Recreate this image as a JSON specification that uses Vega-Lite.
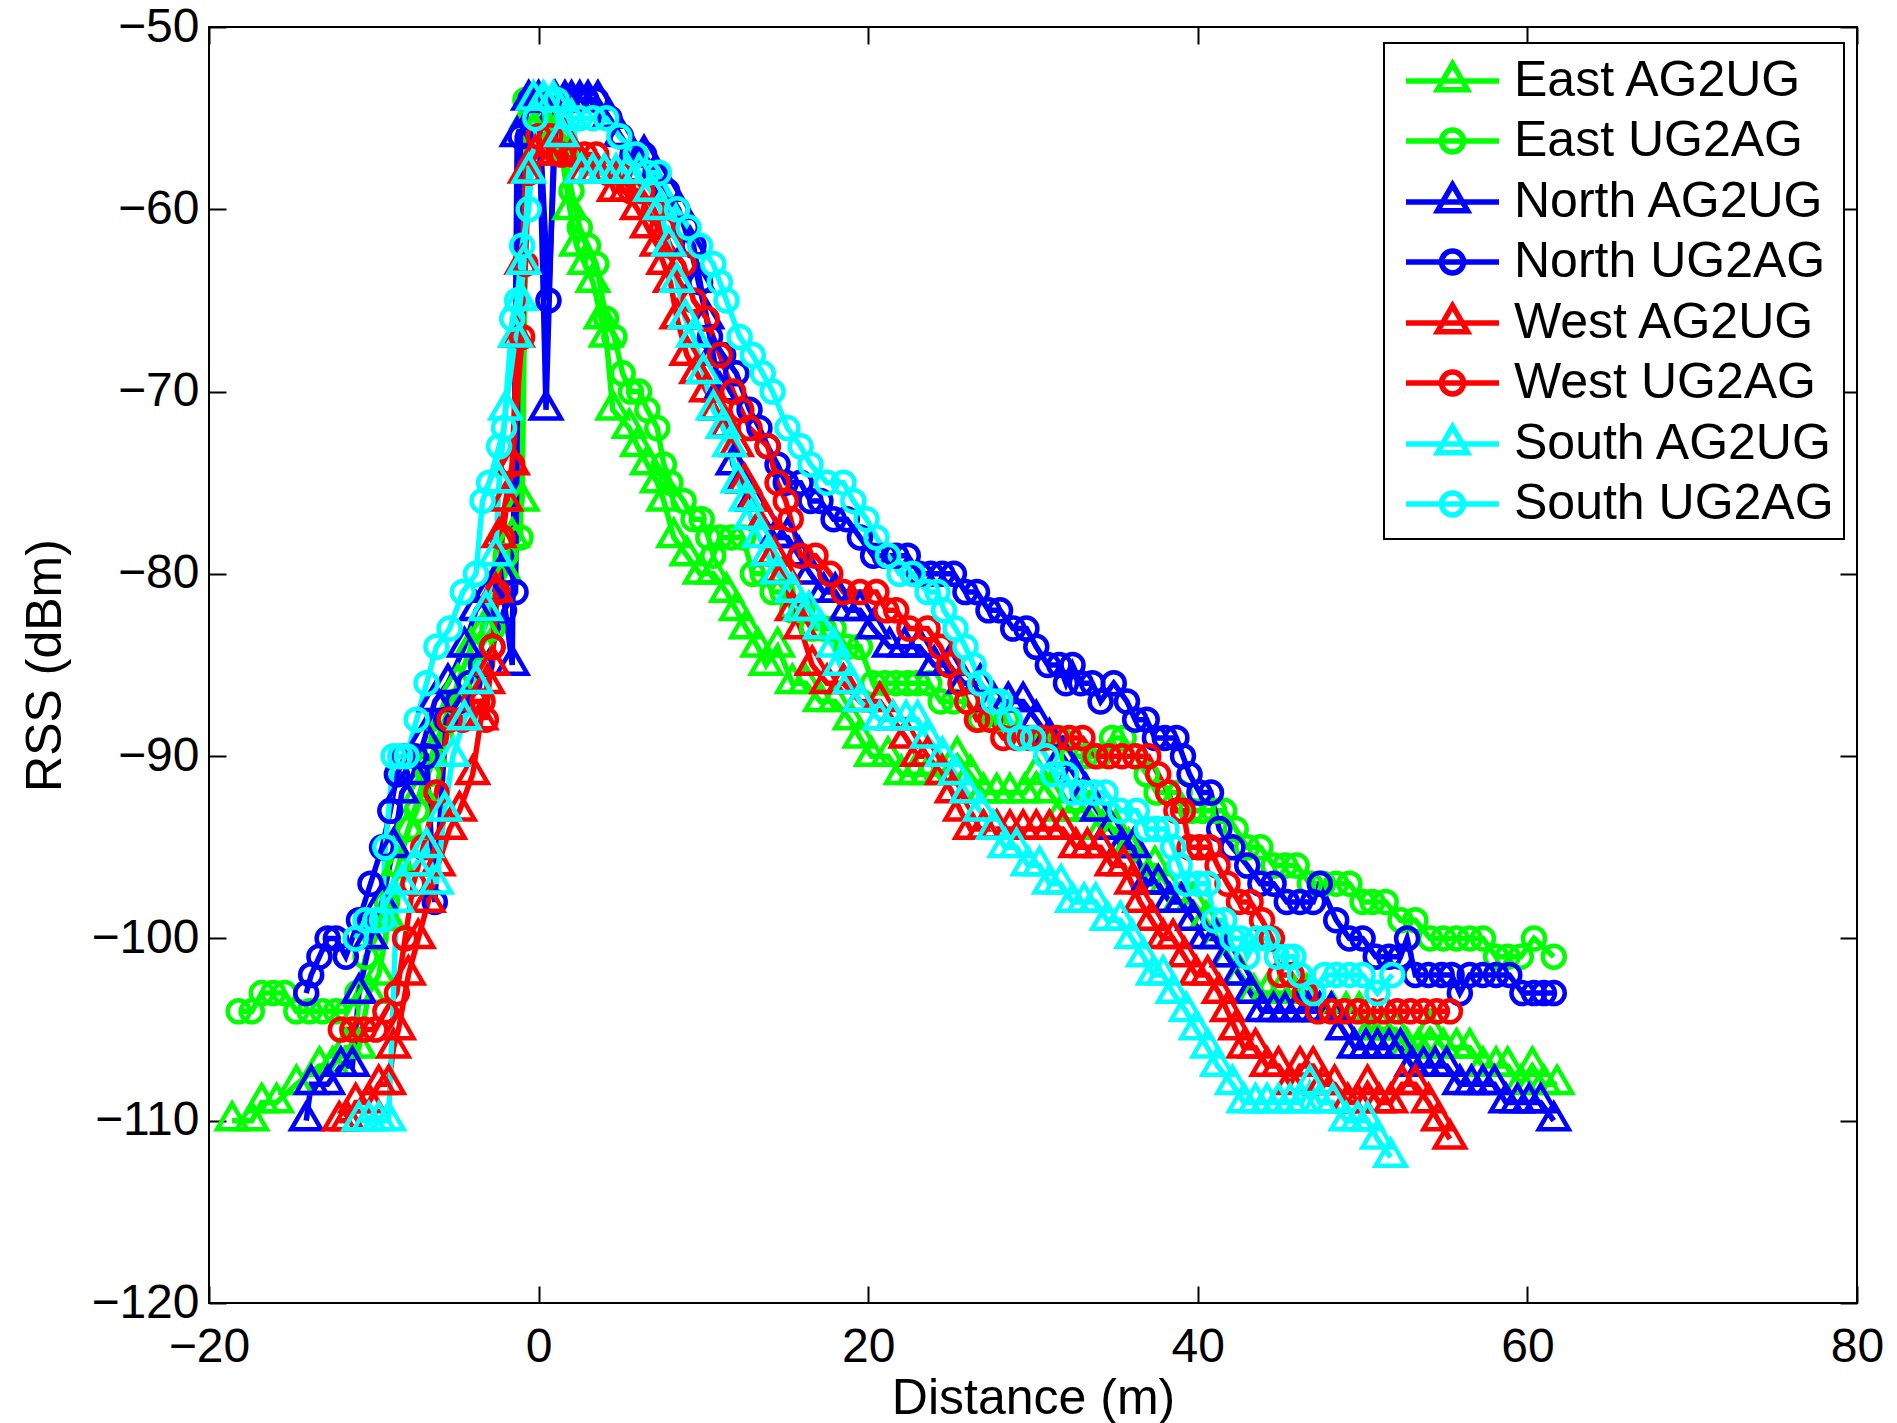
{
"$schema":"https://vega.github.io/schema/vega-lite/v6.json",
"width":1648,"height":1276,
"autosize":{"type":"none"},
"padding":{"left":209,"top":27,"right":40,"bottom":120},
"background":"white",
"config":{"view":{"stroke":"black","strokeWidth":2},"font":"Liberation Sans",
"axis":{"labelFont":"Liberation Sans","titleFont":"Liberation Sans","labelColor":"black","titleColor":"black","titleFontWeight":"normal","grid":false}},
"data":{"values":[
{"s":"East AG2UG","x":-18.6,"y":-110},{"s":"East AG2UG","x":-17.4,"y":-110},{"s":"East AG2UG","x":-16.8,"y":-109},{"s":"East AG2UG","x":-15.9,"y":-109},{"s":"East AG2UG","x":-14.7,"y":-108},{"s":"East AG2UG","x":-13.3,"y":-107},{"s":"East AG2UG","x":-12.5,"y":-107},{"s":"East AG2UG","x":-11.7,"y":-106},{"s":"East AG2UG","x":-10.9,"y":-106},{"s":"East AG2UG","x":-10.3,"y":-103},{"s":"East AG2UG","x":-9.7,"y":-102},{"s":"East AG2UG","x":-9.1,"y":-99},{"s":"East AG2UG","x":-8.5,"y":-96},{"s":"East AG2UG","x":-7.9,"y":-94},{"s":"East AG2UG","x":-7.2,"y":-92},{"s":"East AG2UG","x":-6.5,"y":-90},{"s":"East AG2UG","x":-5.7,"y":-88},{"s":"East AG2UG","x":-4.9,"y":-86},{"s":"East AG2UG","x":-4.1,"y":-84},{"s":"East AG2UG","x":-3.3,"y":-83},{"s":"East AG2UG","x":-2.6,"y":-81},{"s":"East AG2UG","x":-2,"y":-80},{"s":"East AG2UG","x":-1.6,"y":-78},{"s":"East AG2UG","x":-1,"y":-76},{"s":"East AG2UG","x":-0.7,"y":-55},{"s":"East AG2UG","x":0.2,"y":-55},{"s":"East AG2UG","x":0.9,"y":-56},{"s":"East AG2UG","x":1.4,"y":-57},{"s":"East AG2UG","x":1.9,"y":-60},{"s":"East AG2UG","x":2.3,"y":-62},{"s":"East AG2UG","x":2.8,"y":-63},{"s":"East AG2UG","x":3.3,"y":-64},{"s":"East AG2UG","x":3.8,"y":-66},{"s":"East AG2UG","x":4.1,"y":-67},{"s":"East AG2UG","x":4.5,"y":-71},{"s":"East AG2UG","x":5.5,"y":-72},{"s":"East AG2UG","x":6,"y":-73},{"s":"East AG2UG","x":6.6,"y":-74},{"s":"East AG2UG","x":7.2,"y":-75},{"s":"East AG2UG","x":7.6,"y":-76},{"s":"East AG2UG","x":8.2,"y":-78},{"s":"East AG2UG","x":9,"y":-79},{"s":"East AG2UG","x":9.8,"y":-80},{"s":"East AG2UG","x":10.6,"y":-80},{"s":"East AG2UG","x":11.4,"y":-81},{"s":"East AG2UG","x":12,"y":-82},{"s":"East AG2UG","x":12.6,"y":-83},{"s":"East AG2UG","x":13.3,"y":-84},{"s":"East AG2UG","x":13.8,"y":-85},{"s":"East AG2UG","x":14.5,"y":-84},{"s":"East AG2UG","x":15.4,"y":-86},{"s":"East AG2UG","x":16.2,"y":-86},{"s":"East AG2UG","x":17.1,"y":-87},{"s":"East AG2UG","x":18,"y":-87},{"s":"East AG2UG","x":18.9,"y":-88},{"s":"East AG2UG","x":19.5,"y":-89},{"s":"East AG2UG","x":20.2,"y":-90},{"s":"East AG2UG","x":21.2,"y":-90},{"s":"East AG2UG","x":22,"y":-91},{"s":"East AG2UG","x":22.8,"y":-91},{"s":"East AG2UG","x":23.6,"y":-91},{"s":"East AG2UG","x":24.4,"y":-91},{"s":"East AG2UG","x":25.4,"y":-90},{"s":"East AG2UG","x":26.2,"y":-91},{"s":"East AG2UG","x":27,"y":-92},{"s":"East AG2UG","x":27.8,"y":-92},{"s":"East AG2UG","x":28.6,"y":-92},{"s":"East AG2UG","x":29.5,"y":-92},{"s":"East AG2UG","x":30.2,"y":-91},{"s":"East AG2UG","x":31,"y":-92},{"s":"East AG2UG","x":31.8,"y":-93},{"s":"East AG2UG","x":32.6,"y":-93},{"s":"East AG2UG","x":33.4,"y":-93},{"s":"East AG2UG","x":34.2,"y":-94},{"s":"East AG2UG","x":35,"y":-94},{"s":"East AG2UG","x":35.8,"y":-95},{"s":"East AG2UG","x":36.6,"y":-96},{"s":"East AG2UG","x":37.4,"y":-96},{"s":"East AG2UG","x":38.1,"y":-97},{"s":"East AG2UG","x":38.9,"y":-98},{"s":"East AG2UG","x":39.7,"y":-98},{"s":"East AG2UG","x":40.5,"y":-99},{"s":"East AG2UG","x":41.2,"y":-100},{"s":"East AG2UG","x":41.9,"y":-101},{"s":"East AG2UG","x":42.6,"y":-102},{"s":"East AG2UG","x":43.4,"y":-103},{"s":"East AG2UG","x":44.2,"y":-103},{"s":"East AG2UG","x":45,"y":-103},{"s":"East AG2UG","x":45.8,"y":-103},{"s":"East AG2UG","x":46.6,"y":-103},{"s":"East AG2UG","x":47.4,"y":-104},{"s":"East AG2UG","x":48.2,"y":-104},{"s":"East AG2UG","x":49,"y":-104},{"s":"East AG2UG","x":49.8,"y":-104},{"s":"East AG2UG","x":50.5,"y":-105},{"s":"East AG2UG","x":51.2,"y":-105},{"s":"East AG2UG","x":52,"y":-105},{"s":"East AG2UG","x":52.7,"y":-106},{"s":"East AG2UG","x":53.4,"y":-106},{"s":"East AG2UG","x":54.1,"y":-105},{"s":"East AG2UG","x":54.9,"y":-106},{"s":"East AG2UG","x":55.7,"y":-106},{"s":"East AG2UG","x":56.5,"y":-106},{"s":"East AG2UG","x":57.3,"y":-107},{"s":"East AG2UG","x":58.1,"y":-107},{"s":"East AG2UG","x":58.8,"y":-107},{"s":"East AG2UG","x":59.6,"y":-108},{"s":"East AG2UG","x":60.3,"y":-107},{"s":"East AG2UG","x":61,"y":-108},{"s":"East AG2UG","x":61.8,"y":-108},
{"s":"East UG2AG","x":-18.2,"y":-104},{"s":"East UG2AG","x":-17.4,"y":-104},{"s":"East UG2AG","x":-16.8,"y":-103},{"s":"East UG2AG","x":-16.1,"y":-103},{"s":"East UG2AG","x":-15.4,"y":-103},{"s":"East UG2AG","x":-14.7,"y":-104},{"s":"East UG2AG","x":-13.9,"y":-104},{"s":"East UG2AG","x":-13.1,"y":-104},{"s":"East UG2AG","x":-12.3,"y":-104},{"s":"East UG2AG","x":-11.6,"y":-104},{"s":"East UG2AG","x":-11,"y":-103},{"s":"East UG2AG","x":-10.5,"y":-101},{"s":"East UG2AG","x":-9.9,"y":-100},{"s":"East UG2AG","x":-9.2,"y":-98},{"s":"East UG2AG","x":-8.5,"y":-96},{"s":"East UG2AG","x":-7.9,"y":-94},{"s":"East UG2AG","x":-7.4,"y":-93},{"s":"East UG2AG","x":-6.7,"y":-91},{"s":"East UG2AG","x":-5.9,"y":-89},{"s":"East UG2AG","x":-5.1,"y":-87},{"s":"East UG2AG","x":-4.3,"y":-86},{"s":"East UG2AG","x":-3.5,"y":-84},{"s":"East UG2AG","x":-2.8,"y":-83},{"s":"East UG2AG","x":-2,"y":-79},{"s":"East UG2AG","x":-1.1,"y":-78},{"s":"East UG2AG","x":-0.8,"y":-54},{"s":"East UG2AG","x":-0.2,"y":-54},{"s":"East UG2AG","x":0.5,"y":-55},{"s":"East UG2AG","x":1.2,"y":-56},{"s":"East UG2AG","x":1.6,"y":-57},{"s":"East UG2AG","x":2,"y":-59},{"s":"East UG2AG","x":2.5,"y":-61},{"s":"East UG2AG","x":3,"y":-62},{"s":"East UG2AG","x":3.5,"y":-63},{"s":"East UG2AG","x":4.1,"y":-66},{"s":"East UG2AG","x":4.6,"y":-67},{"s":"East UG2AG","x":5.1,"y":-69},{"s":"East UG2AG","x":5.6,"y":-70},{"s":"East UG2AG","x":6.1,"y":-70},{"s":"East UG2AG","x":6.6,"y":-71},{"s":"East UG2AG","x":7.2,"y":-72},{"s":"East UG2AG","x":7.6,"y":-74},{"s":"East UG2AG","x":8,"y":-75},{"s":"East UG2AG","x":8.8,"y":-76},{"s":"East UG2AG","x":9.4,"y":-77},{"s":"East UG2AG","x":9.9,"y":-77},{"s":"East UG2AG","x":10.3,"y":-78},{"s":"East UG2AG","x":10.6,"y":-79},{"s":"East UG2AG","x":11,"y":-78},{"s":"East UG2AG","x":11.7,"y":-78},{"s":"East UG2AG","x":12.4,"y":-78},{"s":"East UG2AG","x":13,"y":-80},{"s":"East UG2AG","x":13.6,"y":-80},{"s":"East UG2AG","x":14.2,"y":-81},{"s":"East UG2AG","x":14.8,"y":-81},{"s":"East UG2AG","x":15.4,"y":-82},{"s":"East UG2AG","x":16,"y":-82},{"s":"East UG2AG","x":16.6,"y":-83},{"s":"East UG2AG","x":17.3,"y":-83},{"s":"East UG2AG","x":17.9,"y":-83},{"s":"East UG2AG","x":18.7,"y":-84},{"s":"East UG2AG","x":19.5,"y":-84},{"s":"East UG2AG","x":20.3,"y":-86},{"s":"East UG2AG","x":21,"y":-86},{"s":"East UG2AG","x":21.7,"y":-86},{"s":"East UG2AG","x":22.4,"y":-86},{"s":"East UG2AG","x":23,"y":-86},{"s":"East UG2AG","x":23.7,"y":-86},{"s":"East UG2AG","x":24.4,"y":-87},{"s":"East UG2AG","x":25.2,"y":-87},{"s":"East UG2AG","x":26,"y":-87},{"s":"East UG2AG","x":26.8,"y":-88},{"s":"East UG2AG","x":27.6,"y":-88},{"s":"East UG2AG","x":28.4,"y":-88},{"s":"East UG2AG","x":29.2,"y":-89},{"s":"East UG2AG","x":30,"y":-89},{"s":"East UG2AG","x":30.8,"y":-89},{"s":"East UG2AG","x":31.6,"y":-89},{"s":"East UG2AG","x":32.4,"y":-90},{"s":"East UG2AG","x":33.2,"y":-90},{"s":"East UG2AG","x":34,"y":-90},{"s":"East UG2AG","x":34.8,"y":-89},{"s":"East UG2AG","x":35.5,"y":-89},{"s":"East UG2AG","x":36.2,"y":-90},{"s":"East UG2AG","x":36.9,"y":-91},{"s":"East UG2AG","x":37.5,"y":-92},{"s":"East UG2AG","x":38.2,"y":-92},{"s":"East UG2AG","x":38.9,"y":-92},{"s":"East UG2AG","x":39.6,"y":-93},{"s":"East UG2AG","x":40.3,"y":-93},{"s":"East UG2AG","x":41,"y":-93},{"s":"East UG2AG","x":41.6,"y":-93},{"s":"East UG2AG","x":42.3,"y":-94},{"s":"East UG2AG","x":43,"y":-95},{"s":"East UG2AG","x":43.8,"y":-95},{"s":"East UG2AG","x":44.6,"y":-96},{"s":"East UG2AG","x":45.3,"y":-96},{"s":"East UG2AG","x":46,"y":-96},{"s":"East UG2AG","x":46.8,"y":-97},{"s":"East UG2AG","x":47.6,"y":-97},{"s":"East UG2AG","x":48.4,"y":-97},{"s":"East UG2AG","x":49.2,"y":-97},{"s":"East UG2AG","x":50,"y":-98},{"s":"East UG2AG","x":50.6,"y":-98},{"s":"East UG2AG","x":51.4,"y":-98},{"s":"East UG2AG","x":52.3,"y":-99},{"s":"East UG2AG","x":53.2,"y":-99},{"s":"East UG2AG","x":54.1,"y":-100},{"s":"East UG2AG","x":54.9,"y":-100},{"s":"East UG2AG","x":55.7,"y":-100},{"s":"East UG2AG","x":56.5,"y":-100},{"s":"East UG2AG","x":57.3,"y":-100},{"s":"East UG2AG","x":58.1,"y":-101},{"s":"East UG2AG","x":58.8,"y":-101},{"s":"East UG2AG","x":59.6,"y":-101},{"s":"East UG2AG","x":60.4,"y":-100},{"s":"East UG2AG","x":61.6,"y":-101},
{"s":"North AG2UG","x":-14.1,"y":-110},{"s":"North AG2UG","x":-13.8,"y":-108},{"s":"North AG2UG","x":-12.8,"y":-108},{"s":"North AG2UG","x":-12,"y":-107},{"s":"North AG2UG","x":-11.3,"y":-107},{"s":"North AG2UG","x":-10.9,"y":-103},{"s":"North AG2UG","x":-10.2,"y":-100},{"s":"North AG2UG","x":-9.5,"y":-98},{"s":"North AG2UG","x":-8.8,"y":-95},{"s":"North AG2UG","x":-8.3,"y":-92},{"s":"North AG2UG","x":-7.6,"y":-91},{"s":"North AG2UG","x":-6.9,"y":-89},{"s":"North AG2UG","x":-6.3,"y":-87},{"s":"North AG2UG","x":-5.5,"y":-86},{"s":"North AG2UG","x":-4.5,"y":-84},{"s":"North AG2UG","x":-3.8,"y":-82},{"s":"North AG2UG","x":-3,"y":-81},{"s":"North AG2UG","x":-2.3,"y":-80},{"s":"North AG2UG","x":-1.6,"y":-85},{"s":"North AG2UG","x":-1.3,"y":-56},{"s":"North AG2UG","x":-0.6,"y":-54},{"s":"North AG2UG","x":0,"y":-54},{"s":"North AG2UG","x":0.45,"y":-71},{"s":"North AG2UG","x":1,"y":-54},{"s":"North AG2UG","x":1.6,"y":-54},{"s":"North AG2UG","x":2,"y":-54},{"s":"North AG2UG","x":2.5,"y":-54},{"s":"North AG2UG","x":3,"y":-54},{"s":"North AG2UG","x":3.6,"y":-54},{"s":"North AG2UG","x":4.3,"y":-55},{"s":"North AG2UG","x":5,"y":-56},{"s":"North AG2UG","x":5.7,"y":-57},{"s":"North AG2UG","x":6.4,"y":-57},{"s":"North AG2UG","x":7.1,"y":-58},{"s":"North AG2UG","x":7.8,"y":-59},{"s":"North AG2UG","x":8.5,"y":-60},{"s":"North AG2UG","x":9.2,"y":-62},{"s":"North AG2UG","x":9.7,"y":-64},{"s":"North AG2UG","x":10.2,"y":-66},{"s":"North AG2UG","x":10.6,"y":-68},{"s":"North AG2UG","x":11,"y":-70},{"s":"North AG2UG","x":11.4,"y":-72},{"s":"North AG2UG","x":11.8,"y":-74},{"s":"North AG2UG","x":12.4,"y":-75},{"s":"North AG2UG","x":13,"y":-76},{"s":"North AG2UG","x":13.7,"y":-77},{"s":"North AG2UG","x":14.4,"y":-78},{"s":"North AG2UG","x":15.1,"y":-78},{"s":"North AG2UG","x":15.8,"y":-79},{"s":"North AG2UG","x":16.5,"y":-80},{"s":"North AG2UG","x":17.3,"y":-81},{"s":"North AG2UG","x":18,"y":-81},{"s":"North AG2UG","x":18.7,"y":-82},{"s":"North AG2UG","x":19.5,"y":-82},{"s":"North AG2UG","x":20.3,"y":-83},{"s":"North AG2UG","x":21.3,"y":-84},{"s":"North AG2UG","x":22.2,"y":-84},{"s":"North AG2UG","x":23.1,"y":-84},{"s":"North AG2UG","x":24,"y":-85},{"s":"North AG2UG","x":24.9,"y":-85},{"s":"North AG2UG","x":25.8,"y":-86},{"s":"North AG2UG","x":26.8,"y":-86},{"s":"North AG2UG","x":27.6,"y":-87},{"s":"North AG2UG","x":28.5,"y":-87},{"s":"North AG2UG","x":29.4,"y":-87},{"s":"North AG2UG","x":30.2,"y":-88},{"s":"North AG2UG","x":31,"y":-89},{"s":"North AG2UG","x":31.8,"y":-90},{"s":"North AG2UG","x":32.5,"y":-91},{"s":"North AG2UG","x":33.2,"y":-92},{"s":"North AG2UG","x":33.9,"y":-93},{"s":"North AG2UG","x":34.7,"y":-94},{"s":"North AG2UG","x":35.4,"y":-95},{"s":"North AG2UG","x":36.1,"y":-95},{"s":"North AG2UG","x":36.9,"y":-97},{"s":"North AG2UG","x":37.6,"y":-97},{"s":"North AG2UG","x":38.3,"y":-98},{"s":"North AG2UG","x":39,"y":-98},{"s":"North AG2UG","x":39.7,"y":-99},{"s":"North AG2UG","x":40.4,"y":-100},{"s":"North AG2UG","x":41.1,"y":-100},{"s":"North AG2UG","x":41.8,"y":-101},{"s":"North AG2UG","x":42.5,"y":-102},{"s":"North AG2UG","x":43.2,"y":-103},{"s":"North AG2UG","x":43.9,"y":-104},{"s":"North AG2UG","x":44.6,"y":-104},{"s":"North AG2UG","x":45.3,"y":-104},{"s":"North AG2UG","x":46,"y":-104},{"s":"North AG2UG","x":46.7,"y":-104},{"s":"North AG2UG","x":47.4,"y":-104},{"s":"North AG2UG","x":48.1,"y":-104},{"s":"North AG2UG","x":48.8,"y":-105},{"s":"North AG2UG","x":49.5,"y":-106},{"s":"North AG2UG","x":50.2,"y":-106},{"s":"North AG2UG","x":50.9,"y":-106},{"s":"North AG2UG","x":51.6,"y":-106},{"s":"North AG2UG","x":52.3,"y":-106},{"s":"North AG2UG","x":53,"y":-107},{"s":"North AG2UG","x":53.7,"y":-107},{"s":"North AG2UG","x":54.4,"y":-107},{"s":"North AG2UG","x":55.1,"y":-107},{"s":"North AG2UG","x":55.9,"y":-108},{"s":"North AG2UG","x":56.6,"y":-108},{"s":"North AG2UG","x":57.3,"y":-108},{"s":"North AG2UG","x":58,"y":-108},{"s":"North AG2UG","x":58.7,"y":-109},{"s":"North AG2UG","x":59.4,"y":-109},{"s":"North AG2UG","x":60.1,"y":-109},{"s":"North AG2UG","x":60.8,"y":-109},{"s":"North AG2UG","x":61.6,"y":-110},
{"s":"North UG2AG","x":-14.1,"y":-103},{"s":"North UG2AG","x":-13.8,"y":-102},{"s":"North UG2AG","x":-13.3,"y":-101},{"s":"North UG2AG","x":-12.8,"y":-100},{"s":"North UG2AG","x":-12.3,"y":-100},{"s":"North UG2AG","x":-11.7,"y":-101},{"s":"North UG2AG","x":-10.9,"y":-99},{"s":"North UG2AG","x":-10.2,"y":-97},{"s":"North UG2AG","x":-9.5,"y":-95},{"s":"North UG2AG","x":-9,"y":-93},{"s":"North UG2AG","x":-8.6,"y":-91},{"s":"North UG2AG","x":-8.1,"y":-90},{"s":"North UG2AG","x":-7.5,"y":-90},{"s":"North UG2AG","x":-6.8,"y":-90},{"s":"North UG2AG","x":-6.3,"y":-98},{"s":"North UG2AG","x":-5.6,"y":-88},{"s":"North UG2AG","x":-4.9,"y":-87},{"s":"North UG2AG","x":-4.2,"y":-86},{"s":"North UG2AG","x":-3.5,"y":-85},{"s":"North UG2AG","x":-2.8,"y":-84},{"s":"North UG2AG","x":-2.1,"y":-82},{"s":"North UG2AG","x":-1.4,"y":-81},{"s":"North UG2AG","x":-1.1,"y":-56},{"s":"North UG2AG","x":-0.5,"y":-54},{"s":"North UG2AG","x":0,"y":-54},{"s":"North UG2AG","x":0.6,"y":-65},{"s":"North UG2AG","x":1.1,"y":-54},{"s":"North UG2AG","x":1.7,"y":-54},{"s":"North UG2AG","x":2.3,"y":-54},{"s":"North UG2AG","x":2.9,"y":-54},{"s":"North UG2AG","x":3.5,"y":-54},{"s":"North UG2AG","x":4.3,"y":-55},{"s":"North UG2AG","x":5,"y":-56},{"s":"North UG2AG","x":5.7,"y":-57},{"s":"North UG2AG","x":6.4,"y":-57},{"s":"North UG2AG","x":7.1,"y":-58},{"s":"North UG2AG","x":7.8,"y":-59},{"s":"North UG2AG","x":8.4,"y":-60},{"s":"North UG2AG","x":9,"y":-61},{"s":"North UG2AG","x":9.4,"y":-62},{"s":"North UG2AG","x":9.8,"y":-64},{"s":"North UG2AG","x":10.4,"y":-67},{"s":"North UG2AG","x":11.2,"y":-68},{"s":"North UG2AG","x":12,"y":-69},{"s":"North UG2AG","x":12.8,"y":-71},{"s":"North UG2AG","x":13.4,"y":-72},{"s":"North UG2AG","x":13.9,"y":-73},{"s":"North UG2AG","x":14.5,"y":-74},{"s":"North UG2AG","x":15,"y":-75},{"s":"North UG2AG","x":15.9,"y":-75},{"s":"North UG2AG","x":16.5,"y":-76},{"s":"North UG2AG","x":17.1,"y":-76},{"s":"North UG2AG","x":17.9,"y":-77},{"s":"North UG2AG","x":18.7,"y":-77},{"s":"North UG2AG","x":19.5,"y":-78},{"s":"North UG2AG","x":20.3,"y":-79},{"s":"North UG2AG","x":21,"y":-79},{"s":"North UG2AG","x":21.7,"y":-79},{"s":"North UG2AG","x":22.4,"y":-79},{"s":"North UG2AG","x":23.1,"y":-80},{"s":"North UG2AG","x":23.8,"y":-80},{"s":"North UG2AG","x":24.5,"y":-80},{"s":"North UG2AG","x":25.2,"y":-80},{"s":"North UG2AG","x":25.9,"y":-81},{"s":"North UG2AG","x":26.6,"y":-81},{"s":"North UG2AG","x":27.3,"y":-82},{"s":"North UG2AG","x":28,"y":-82},{"s":"North UG2AG","x":28.8,"y":-83},{"s":"North UG2AG","x":29.6,"y":-83},{"s":"North UG2AG","x":30.2,"y":-84},{"s":"North UG2AG","x":30.9,"y":-85},{"s":"North UG2AG","x":31.6,"y":-85},{"s":"North UG2AG","x":32,"y":-86},{"s":"North UG2AG","x":32.4,"y":-85},{"s":"North UG2AG","x":32.9,"y":-86},{"s":"North UG2AG","x":33.6,"y":-86},{"s":"North UG2AG","x":34.1,"y":-87},{"s":"North UG2AG","x":34.9,"y":-86},{"s":"North UG2AG","x":35.7,"y":-87},{"s":"North UG2AG","x":36.2,"y":-88},{"s":"North UG2AG","x":36.9,"y":-88},{"s":"North UG2AG","x":37.4,"y":-89},{"s":"North UG2AG","x":38,"y":-89},{"s":"North UG2AG","x":38.7,"y":-89},{"s":"North UG2AG","x":39.1,"y":-90},{"s":"North UG2AG","x":39.5,"y":-91},{"s":"North UG2AG","x":40.1,"y":-92},{"s":"North UG2AG","x":40.8,"y":-92},{"s":"North UG2AG","x":41.3,"y":-94},{"s":"North UG2AG","x":42.1,"y":-95},{"s":"North UG2AG","x":43,"y":-96},{"s":"North UG2AG","x":43.8,"y":-97},{"s":"North UG2AG","x":44.6,"y":-97},{"s":"North UG2AG","x":45.4,"y":-98},{"s":"North UG2AG","x":46.2,"y":-98},{"s":"North UG2AG","x":47,"y":-98},{"s":"North UG2AG","x":47.4,"y":-97},{"s":"North UG2AG","x":48.4,"y":-99},{"s":"North UG2AG","x":49.2,"y":-100},{"s":"North UG2AG","x":50,"y":-100},{"s":"North UG2AG","x":50.8,"y":-101},{"s":"North UG2AG","x":51.6,"y":-101},{"s":"North UG2AG","x":52.3,"y":-101},{"s":"North UG2AG","x":52.7,"y":-100},{"s":"North UG2AG","x":53.2,"y":-102},{"s":"North UG2AG","x":54,"y":-102},{"s":"North UG2AG","x":54.8,"y":-102},{"s":"North UG2AG","x":55.4,"y":-102},{"s":"North UG2AG","x":55.9,"y":-103},{"s":"North UG2AG","x":56.5,"y":-102},{"s":"North UG2AG","x":57.3,"y":-102},{"s":"North UG2AG","x":58.1,"y":-102},{"s":"North UG2AG","x":58.9,"y":-102},{"s":"North UG2AG","x":59.7,"y":-103},{"s":"North UG2AG","x":60.4,"y":-103},{"s":"North UG2AG","x":61,"y":-103},{"s":"North UG2AG","x":61.6,"y":-103},
{"s":"West AG2UG","x":-12.1,"y":-110},{"s":"West AG2UG","x":-11.6,"y":-110},{"s":"West AG2UG","x":-11.1,"y":-109},{"s":"West AG2UG","x":-10.3,"y":-109},{"s":"West AG2UG","x":-9.7,"y":-108},{"s":"West AG2UG","x":-9.1,"y":-108},{"s":"West AG2UG","x":-8.8,"y":-106},{"s":"West AG2UG","x":-8.5,"y":-105},{"s":"West AG2UG","x":-7.9,"y":-102},{"s":"West AG2UG","x":-7.3,"y":-100},{"s":"West AG2UG","x":-6.7,"y":-98},{"s":"West AG2UG","x":-6.1,"y":-96},{"s":"West AG2UG","x":-5.4,"y":-94},{"s":"West AG2UG","x":-4.8,"y":-93},{"s":"West AG2UG","x":-4,"y":-91},{"s":"West AG2UG","x":-3.5,"y":-88},{"s":"West AG2UG","x":-3.1,"y":-86},{"s":"West AG2UG","x":-2.8,"y":-85},{"s":"West AG2UG","x":-2.6,"y":-81},{"s":"West AG2UG","x":-2.4,"y":-78},{"s":"West AG2UG","x":-2,"y":-76},{"s":"West AG2UG","x":-1.6,"y":-74},{"s":"West AG2UG","x":-1.3,"y":-67},{"s":"West AG2UG","x":-1,"y":-63},{"s":"West AG2UG","x":-0.8,"y":-58},{"s":"West AG2UG","x":-0.2,"y":-57},{"s":"West AG2UG","x":0.5,"y":-57},{"s":"West AG2UG","x":1,"y":-57},{"s":"West AG2UG","x":1.5,"y":-56},{"s":"West AG2UG","x":2.1,"y":-57},{"s":"West AG2UG","x":2.8,"y":-58},{"s":"West AG2UG","x":3.5,"y":-58},{"s":"West AG2UG","x":4.1,"y":-58},{"s":"West AG2UG","x":4.6,"y":-59},{"s":"West AG2UG","x":5.3,"y":-59},{"s":"West AG2UG","x":6,"y":-60},{"s":"West AG2UG","x":6.6,"y":-61},{"s":"West AG2UG","x":7.2,"y":-62},{"s":"West AG2UG","x":7.6,"y":-63},{"s":"West AG2UG","x":8,"y":-64},{"s":"West AG2UG","x":8.4,"y":-66},{"s":"West AG2UG","x":9,"y":-68},{"s":"West AG2UG","x":9.6,"y":-69},{"s":"West AG2UG","x":10.2,"y":-70},{"s":"West AG2UG","x":10.8,"y":-71},{"s":"West AG2UG","x":11.4,"y":-72},{"s":"West AG2UG","x":12,"y":-73},{"s":"West AG2UG","x":12.5,"y":-75},{"s":"West AG2UG","x":13.1,"y":-76},{"s":"West AG2UG","x":13.7,"y":-77},{"s":"West AG2UG","x":14.3,"y":-79},{"s":"West AG2UG","x":14.9,"y":-80},{"s":"West AG2UG","x":15.4,"y":-82},{"s":"West AG2UG","x":15.9,"y":-83},{"s":"West AG2UG","x":16.6,"y":-85},{"s":"West AG2UG","x":17.5,"y":-86},{"s":"West AG2UG","x":18.5,"y":-86},{"s":"West AG2UG","x":19.5,"y":-87},{"s":"West AG2UG","x":20.7,"y":-87},{"s":"West AG2UG","x":21.5,"y":-88},{"s":"West AG2UG","x":22.3,"y":-89},{"s":"West AG2UG","x":23,"y":-90},{"s":"West AG2UG","x":23.6,"y":-90},{"s":"West AG2UG","x":24.5,"y":-91},{"s":"West AG2UG","x":25.1,"y":-92},{"s":"West AG2UG","x":25.6,"y":-93},{"s":"West AG2UG","x":26.2,"y":-94},{"s":"West AG2UG","x":27,"y":-94},{"s":"West AG2UG","x":27.8,"y":-94},{"s":"West AG2UG","x":28.6,"y":-94},{"s":"West AG2UG","x":29.4,"y":-94},{"s":"West AG2UG","x":30.2,"y":-94},{"s":"West AG2UG","x":31,"y":-94},{"s":"West AG2UG","x":31.8,"y":-94},{"s":"West AG2UG","x":32.6,"y":-95},{"s":"West AG2UG","x":33.3,"y":-95},{"s":"West AG2UG","x":34.1,"y":-95},{"s":"West AG2UG","x":34.8,"y":-96},{"s":"West AG2UG","x":35.5,"y":-96},{"s":"West AG2UG","x":36,"y":-97},{"s":"West AG2UG","x":36.5,"y":-98},{"s":"West AG2UG","x":37.2,"y":-99},{"s":"West AG2UG","x":37.9,"y":-100},{"s":"West AG2UG","x":38.5,"y":-100},{"s":"West AG2UG","x":39.2,"y":-101},{"s":"West AG2UG","x":39.9,"y":-102},{"s":"West AG2UG","x":40.6,"y":-102},{"s":"West AG2UG","x":41.3,"y":-103},{"s":"West AG2UG","x":41.8,"y":-104},{"s":"West AG2UG","x":42.3,"y":-105},{"s":"West AG2UG","x":42.8,"y":-106},{"s":"West AG2UG","x":43.5,"y":-106},{"s":"West AG2UG","x":44.2,"y":-107},{"s":"West AG2UG","x":44.9,"y":-107},{"s":"West AG2UG","x":45.6,"y":-108},{"s":"West AG2UG","x":46.2,"y":-107},{"s":"West AG2UG","x":47,"y":-107},{"s":"West AG2UG","x":47.6,"y":-108},{"s":"West AG2UG","x":48.3,"y":-108},{"s":"West AG2UG","x":49.1,"y":-109},{"s":"West AG2UG","x":49.7,"y":-109},{"s":"West AG2UG","x":50.3,"y":-108},{"s":"West AG2UG","x":51,"y":-109},{"s":"West AG2UG","x":51.7,"y":-109},{"s":"West AG2UG","x":52.4,"y":-108},{"s":"West AG2UG","x":53.2,"y":-108},{"s":"West AG2UG","x":54,"y":-109},{"s":"West AG2UG","x":54.6,"y":-110},{"s":"West AG2UG","x":55.3,"y":-111},
{"s":"West UG2AG","x":-12,"y":-105},{"s":"West UG2AG","x":-11.3,"y":-105},{"s":"West UG2AG","x":-10.6,"y":-105},{"s":"West UG2AG","x":-9.9,"y":-105},{"s":"West UG2AG","x":-9.3,"y":-104},{"s":"West UG2AG","x":-8.6,"y":-103},{"s":"West UG2AG","x":-8.1,"y":-100},{"s":"West UG2AG","x":-7.6,"y":-97},{"s":"West UG2AG","x":-7,"y":-95},{"s":"West UG2AG","x":-6.2,"y":-92},{"s":"West UG2AG","x":-5.4,"y":-88},{"s":"West UG2AG","x":-4.6,"y":-88},{"s":"West UG2AG","x":-3.9,"y":-87},{"s":"West UG2AG","x":-3.4,"y":-87},{"s":"West UG2AG","x":-3.2,"y":-88},{"s":"West UG2AG","x":-2.8,"y":-84},{"s":"West UG2AG","x":-2.5,"y":-81},{"s":"West UG2AG","x":-2.2,"y":-78},{"s":"West UG2AG","x":-1.6,"y":-74},{"s":"West UG2AG","x":-1,"y":-67},{"s":"West UG2AG","x":-0.8,"y":-63},{"s":"West UG2AG","x":-0.6,"y":-58},{"s":"West UG2AG","x":0,"y":-56},{"s":"West UG2AG","x":0.7,"y":-56},{"s":"West UG2AG","x":1.4,"y":-57},{"s":"West UG2AG","x":2.1,"y":-57},{"s":"West UG2AG","x":2.8,"y":-57},{"s":"West UG2AG","x":3.5,"y":-57},{"s":"West UG2AG","x":4.2,"y":-58},{"s":"West UG2AG","x":4.9,"y":-58},{"s":"West UG2AG","x":5.6,"y":-59},{"s":"West UG2AG","x":6.3,"y":-59},{"s":"West UG2AG","x":7,"y":-60},{"s":"West UG2AG","x":7.5,"y":-61},{"s":"West UG2AG","x":8,"y":-62},{"s":"West UG2AG","x":8.8,"y":-63},{"s":"West UG2AG","x":9.4,"y":-65},{"s":"West UG2AG","x":10.2,"y":-66},{"s":"West UG2AG","x":11,"y":-68},{"s":"West UG2AG","x":11.8,"y":-70},{"s":"West UG2AG","x":12.3,"y":-71},{"s":"West UG2AG","x":12.8,"y":-72},{"s":"West UG2AG","x":13.9,"y":-73},{"s":"West UG2AG","x":14.5,"y":-75},{"s":"West UG2AG","x":15,"y":-76},{"s":"West UG2AG","x":15.3,"y":-77},{"s":"West UG2AG","x":15.9,"y":-79},{"s":"West UG2AG","x":16.8,"y":-79},{"s":"West UG2AG","x":17.7,"y":-80},{"s":"West UG2AG","x":18.5,"y":-81},{"s":"West UG2AG","x":19.5,"y":-81},{"s":"West UG2AG","x":20.5,"y":-81},{"s":"West UG2AG","x":21.1,"y":-82},{"s":"West UG2AG","x":21.7,"y":-82},{"s":"West UG2AG","x":22.5,"y":-83},{"s":"West UG2AG","x":23.6,"y":-83},{"s":"West UG2AG","x":24.4,"y":-84},{"s":"West UG2AG","x":24.9,"y":-85},{"s":"West UG2AG","x":25.6,"y":-86},{"s":"West UG2AG","x":26,"y":-87},{"s":"West UG2AG","x":26.6,"y":-88},{"s":"West UG2AG","x":27.4,"y":-88},{"s":"West UG2AG","x":28.2,"y":-89},{"s":"West UG2AG","x":29,"y":-89},{"s":"West UG2AG","x":29.8,"y":-89},{"s":"West UG2AG","x":30.6,"y":-89},{"s":"West UG2AG","x":31.4,"y":-89},{"s":"West UG2AG","x":32.2,"y":-89},{"s":"West UG2AG","x":33,"y":-89},{"s":"West UG2AG","x":33.8,"y":-90},{"s":"West UG2AG","x":34.6,"y":-90},{"s":"West UG2AG","x":35.4,"y":-90},{"s":"West UG2AG","x":36.2,"y":-90},{"s":"West UG2AG","x":37,"y":-90},{"s":"West UG2AG","x":37.6,"y":-91},{"s":"West UG2AG","x":38.2,"y":-92},{"s":"West UG2AG","x":38.7,"y":-93},{"s":"West UG2AG","x":39.1,"y":-93},{"s":"West UG2AG","x":39.5,"y":-95},{"s":"West UG2AG","x":40.1,"y":-95},{"s":"West UG2AG","x":40.7,"y":-95},{"s":"West UG2AG","x":41.2,"y":-96},{"s":"West UG2AG","x":41.8,"y":-97},{"s":"West UG2AG","x":42.5,"y":-98},{"s":"West UG2AG","x":43.2,"y":-98},{"s":"West UG2AG","x":43.9,"y":-99},{"s":"West UG2AG","x":44.5,"y":-100},{"s":"West UG2AG","x":45,"y":-102},{"s":"West UG2AG","x":45.7,"y":-102},{"s":"West UG2AG","x":46.5,"y":-103},{"s":"West UG2AG","x":47.3,"y":-104},{"s":"West UG2AG","x":48.1,"y":-104},{"s":"West UG2AG","x":48.9,"y":-104},{"s":"West UG2AG","x":49.7,"y":-104},{"s":"West UG2AG","x":50.5,"y":-104},{"s":"West UG2AG","x":51.3,"y":-104},{"s":"West UG2AG","x":52.1,"y":-104},{"s":"West UG2AG","x":52.9,"y":-104},{"s":"West UG2AG","x":53.7,"y":-104},{"s":"West UG2AG","x":54.5,"y":-104},{"s":"West UG2AG","x":55.3,"y":-104},
{"s":"South AG2UG","x":-10.9,"y":-110},{"s":"South AG2UG","x":-10.3,"y":-110},{"s":"South AG2UG","x":-9.7,"y":-110},{"s":"South AG2UG","x":-9.1,"y":-110},{"s":"South AG2UG","x":-8.6,"y":-98},{"s":"South AG2UG","x":-8.3,"y":-97},{"s":"South AG2UG","x":-7.5,"y":-96},{"s":"South AG2UG","x":-6.8,"y":-95},{"s":"South AG2UG","x":-6.2,"y":-97},{"s":"South AG2UG","x":-5.7,"y":-93},{"s":"South AG2UG","x":-5.2,"y":-90},{"s":"South AG2UG","x":-4.5,"y":-88},{"s":"South AG2UG","x":-3.8,"y":-86},{"s":"South AG2UG","x":-3.2,"y":-82},{"s":"South AG2UG","x":-2.6,"y":-79},{"s":"South AG2UG","x":-2.4,"y":-75},{"s":"South AG2UG","x":-2,"y":-71},{"s":"South AG2UG","x":-1.4,"y":-67},{"s":"South AG2UG","x":-1.1,"y":-65},{"s":"South AG2UG","x":-0.9,"y":-63},{"s":"South AG2UG","x":-0.6,"y":-58},{"s":"South AG2UG","x":-0.3,"y":-54},{"s":"South AG2UG","x":0.3,"y":-54},{"s":"South AG2UG","x":0.9,"y":-54},{"s":"South AG2UG","x":1.4,"y":-56},{"s":"South AG2UG","x":2,"y":-55},{"s":"South AG2UG","x":2.6,"y":-58},{"s":"South AG2UG","x":3.3,"y":-58},{"s":"South AG2UG","x":4,"y":-58},{"s":"South AG2UG","x":4.7,"y":-58},{"s":"South AG2UG","x":5.4,"y":-58},{"s":"South AG2UG","x":6.1,"y":-58},{"s":"South AG2UG","x":6.8,"y":-59},{"s":"South AG2UG","x":7.4,"y":-60},{"s":"South AG2UG","x":7.9,"y":-62},{"s":"South AG2UG","x":8.4,"y":-64},{"s":"South AG2UG","x":8.9,"y":-66},{"s":"South AG2UG","x":9.4,"y":-67},{"s":"South AG2UG","x":10,"y":-69},{"s":"South AG2UG","x":10.6,"y":-71},{"s":"South AG2UG","x":11.2,"y":-72},{"s":"South AG2UG","x":11.6,"y":-73},{"s":"South AG2UG","x":12.1,"y":-75},{"s":"South AG2UG","x":12.6,"y":-76},{"s":"South AG2UG","x":12.9,"y":-77},{"s":"South AG2UG","x":13.4,"y":-78},{"s":"South AG2UG","x":13.9,"y":-79},{"s":"South AG2UG","x":14.5,"y":-80},{"s":"South AG2UG","x":15.4,"y":-81},{"s":"South AG2UG","x":15.9,"y":-82},{"s":"South AG2UG","x":16.4,"y":-82},{"s":"South AG2UG","x":17.1,"y":-83},{"s":"South AG2UG","x":17.9,"y":-84},{"s":"South AG2UG","x":18.3,"y":-85},{"s":"South AG2UG","x":18.9,"y":-86},{"s":"South AG2UG","x":19.5,"y":-87},{"s":"South AG2UG","x":20.7,"y":-88},{"s":"South AG2UG","x":21.5,"y":-88},{"s":"South AG2UG","x":22.3,"y":-88},{"s":"South AG2UG","x":23,"y":-88},{"s":"South AG2UG","x":23.6,"y":-89},{"s":"South AG2UG","x":24.5,"y":-90},{"s":"South AG2UG","x":25.3,"y":-91},{"s":"South AG2UG","x":26,"y":-92},{"s":"South AG2UG","x":26.8,"y":-93},{"s":"South AG2UG","x":27.6,"y":-94},{"s":"South AG2UG","x":28.3,"y":-95},{"s":"South AG2UG","x":29,"y":-95},{"s":"South AG2UG","x":29.7,"y":-96},{"s":"South AG2UG","x":30.4,"y":-96},{"s":"South AG2UG","x":31,"y":-97},{"s":"South AG2UG","x":31.7,"y":-97},{"s":"South AG2UG","x":32.4,"y":-98},{"s":"South AG2UG","x":33.1,"y":-98},{"s":"South AG2UG","x":33.8,"y":-98},{"s":"South AG2UG","x":34.5,"y":-99},{"s":"South AG2UG","x":35.3,"y":-99},{"s":"South AG2UG","x":36,"y":-100},{"s":"South AG2UG","x":36.7,"y":-101},{"s":"South AG2UG","x":37.3,"y":-102},{"s":"South AG2UG","x":37.9,"y":-102},{"s":"South AG2UG","x":38.5,"y":-103},{"s":"South AG2UG","x":39.3,"y":-104},{"s":"South AG2UG","x":39.9,"y":-105},{"s":"South AG2UG","x":40.6,"y":-106},{"s":"South AG2UG","x":41.2,"y":-107},{"s":"South AG2UG","x":42.1,"y":-108},{"s":"South AG2UG","x":42.8,"y":-109},{"s":"South AG2UG","x":43.5,"y":-109},{"s":"South AG2UG","x":44.2,"y":-109},{"s":"South AG2UG","x":44.9,"y":-109},{"s":"South AG2UG","x":45.6,"y":-109},{"s":"South AG2UG","x":46.3,"y":-109},{"s":"South AG2UG","x":46.8,"y":-108},{"s":"South AG2UG","x":47.4,"y":-109},{"s":"South AG2UG","x":48.2,"y":-109},{"s":"South AG2UG","x":49,"y":-110},{"s":"South AG2UG","x":49.7,"y":-110},{"s":"South AG2UG","x":50.3,"y":-110},{"s":"South AG2UG","x":50.9,"y":-111},{"s":"South AG2UG","x":51.7,"y":-112},
{"s":"South UG2AG","x":-11.1,"y":-100},{"s":"South UG2AG","x":-10.5,"y":-99},{"s":"South UG2AG","x":-9.9,"y":-99},{"s":"South UG2AG","x":-9.5,"y":-99},{"s":"South UG2AG","x":-9.3,"y":-95},{"s":"South UG2AG","x":-8.8,"y":-90},{"s":"South UG2AG","x":-8.4,"y":-90},{"s":"South UG2AG","x":-8,"y":-90},{"s":"South UG2AG","x":-7.4,"y":-88},{"s":"South UG2AG","x":-6.8,"y":-86},{"s":"South UG2AG","x":-6.2,"y":-84},{"s":"South UG2AG","x":-5.4,"y":-83},{"s":"South UG2AG","x":-4.6,"y":-81},{"s":"South UG2AG","x":-3.8,"y":-80},{"s":"South UG2AG","x":-3.4,"y":-76},{"s":"South UG2AG","x":-3,"y":-75},{"s":"South UG2AG","x":-2.4,"y":-73},{"s":"South UG2AG","x":-2.1,"y":-72},{"s":"South UG2AG","x":-1.6,"y":-66},{"s":"South UG2AG","x":-1.3,"y":-65},{"s":"South UG2AG","x":-1,"y":-62},{"s":"South UG2AG","x":-0.6,"y":-60},{"s":"South UG2AG","x":-0.2,"y":-55},{"s":"South UG2AG","x":0.5,"y":-54},{"s":"South UG2AG","x":1.1,"y":-54},{"s":"South UG2AG","x":1.8,"y":-55},{"s":"South UG2AG","x":2.5,"y":-55},{"s":"South UG2AG","x":3.3,"y":-55},{"s":"South UG2AG","x":4.1,"y":-55},{"s":"South UG2AG","x":4.9,"y":-56},{"s":"South UG2AG","x":5.9,"y":-57},{"s":"South UG2AG","x":6.6,"y":-58},{"s":"South UG2AG","x":7.3,"y":-58},{"s":"South UG2AG","x":8.4,"y":-60},{"s":"South UG2AG","x":9.1,"y":-61},{"s":"South UG2AG","x":9.8,"y":-62},{"s":"South UG2AG","x":10.6,"y":-63},{"s":"South UG2AG","x":11,"y":-64},{"s":"South UG2AG","x":11.4,"y":-65},{"s":"South UG2AG","x":12.2,"y":-67},{"s":"South UG2AG","x":13,"y":-68},{"s":"South UG2AG","x":13.6,"y":-69},{"s":"South UG2AG","x":14.2,"y":-70},{"s":"South UG2AG","x":15.1,"y":-72},{"s":"South UG2AG","x":15.9,"y":-73},{"s":"South UG2AG","x":16.5,"y":-74},{"s":"South UG2AG","x":17.5,"y":-75},{"s":"South UG2AG","x":18.5,"y":-75},{"s":"South UG2AG","x":19.1,"y":-76},{"s":"South UG2AG","x":19.9,"y":-77},{"s":"South UG2AG","x":20.5,"y":-78},{"s":"South UG2AG","x":21.2,"y":-79},{"s":"South UG2AG","x":21.9,"y":-80},{"s":"South UG2AG","x":22.7,"y":-80},{"s":"South UG2AG","x":23.6,"y":-81},{"s":"South UG2AG","x":24.2,"y":-81},{"s":"South UG2AG","x":24.6,"y":-82},{"s":"South UG2AG","x":25.3,"y":-83},{"s":"South UG2AG","x":25.9,"y":-84},{"s":"South UG2AG","x":26.4,"y":-85},{"s":"South UG2AG","x":26.8,"y":-86},{"s":"South UG2AG","x":27.6,"y":-87},{"s":"South UG2AG","x":28,"y":-87},{"s":"South UG2AG","x":28.6,"y":-88},{"s":"South UG2AG","x":29.2,"y":-89},{"s":"South UG2AG","x":30,"y":-89},{"s":"South UG2AG","x":30.8,"y":-90},{"s":"South UG2AG","x":31.2,"y":-91},{"s":"South UG2AG","x":32,"y":-91},{"s":"South UG2AG","x":32.4,"y":-92},{"s":"South UG2AG","x":33,"y":-92},{"s":"South UG2AG","x":33.7,"y":-92},{"s":"South UG2AG","x":34.4,"y":-92},{"s":"South UG2AG","x":35.3,"y":-93},{"s":"South UG2AG","x":36.3,"y":-93},{"s":"South UG2AG","x":36.9,"y":-94},{"s":"South UG2AG","x":37.5,"y":-94},{"s":"South UG2AG","x":38.1,"y":-94},{"s":"South UG2AG","x":38.5,"y":-95},{"s":"South UG2AG","x":38.9,"y":-96},{"s":"South UG2AG","x":39.3,"y":-97},{"s":"South UG2AG","x":40,"y":-97},{"s":"South UG2AG","x":40.6,"y":-97},{"s":"South UG2AG","x":41,"y":-99},{"s":"South UG2AG","x":41.6,"y":-99},{"s":"South UG2AG","x":42.1,"y":-100},{"s":"South UG2AG","x":42.6,"y":-100},{"s":"South UG2AG","x":43,"y":-101},{"s":"South UG2AG","x":43.6,"y":-100},{"s":"South UG2AG","x":44.2,"y":-100},{"s":"South UG2AG","x":44.8,"y":-101},{"s":"South UG2AG","x":45.4,"y":-101},{"s":"South UG2AG","x":45.8,"y":-101},{"s":"South UG2AG","x":46.2,"y":-102},{"s":"South UG2AG","x":47,"y":-103},{"s":"South UG2AG","x":47.7,"y":-102},{"s":"South UG2AG","x":48.4,"y":-102},{"s":"South UG2AG","x":49.2,"y":-102},{"s":"South UG2AG","x":50,"y":-102},{"s":"South UG2AG","x":50.9,"y":-103},{"s":"South UG2AG","x":51.8,"y":-102}
]},
"layer":[
{"mark":{"type":"line","strokeWidth":5.5},
 "encoding":{
  "x":{"field":"x","type":"quantitative","scale":{"domain":[-20,80],"nice":false,"zero":false},
       "axis":{"orient":"bottom","values":[-20,0,20,40,60,80],"ticks":false,"domain":false,"labelFontSize":48,"labelPadding":20,"labelFlush":false,"labelOverlap":false,"title":"Distance (m)","titleFontSize":50,"titlePadding":2}},
  "y":{"field":"y","type":"quantitative","scale":{"domain":[-120,-50],"nice":false,"zero":false},
       "axis":{"orient":"left","values":[-120,-110,-100,-90,-80,-70,-60,-50],"ticks":false,"domain":false,"labelFontSize":48,"labelPadding":10,"labelFlush":false,"labelOverlap":false,"title":"RSS (dBm)","titleFontSize":50,"titlePadding":20}},
  "color":{"field":"s","type":"nominal",
    "scale":{"domain":["East AG2UG","East UG2AG","North AG2UG","North UG2AG","West AG2UG","West UG2AG","South AG2UG","South UG2AG"],
             "range":["#00ff00","#00ff00","#0000ff","#0000ff","#ff0000","#ff0000","#00ffff","#00ffff"]},
    "legend":{"orient":"none","legendX":1175,"legendY":16,"title":null,"padding":10,
      "strokeColor":"black","fillColor":"white",
      "labelFontSize":50,"labelFont":"Liberation Sans","labelColor":"black","labelLimit":0,
      "symbolSize":2500,"symbolOffset":30.5,"labelOffset":33.5,"rowPadding":7.0,
      "symbolStrokeWidth":5.5,"symbolFillColor":"transparent",
      "encode":{
        "legend":{"update":{"strokeWidth":{"value":2}}},
        "symbols":{"update":{
          "shape":{"signal":"indexof(datum.value,'AG2UG')>=0 ? 'M-1.86,0H1.86M0,-0.69L0.6,0.345L-0.6,0.345Z' : 'M-1.86,0H1.86M0.44,0A0.44,0.44,0,1,1,-0.44,0A0.44,0.44,0,1,1,0.44,0Z'"},
          "fill":{"value":"transparent"},
          "stroke":{"scale":"color","field":"value"},
          "strokeWidth":{"value":5.5},
          "opacity":{"value":1}}}}}}
 }},
{"mark":{"type":"point","filled":false,"strokeWidth":4.5,"opacity":1},
 "encoding":{
  "x":{"field":"x","type":"quantitative","axis":{"orient":"bottom","offset":-17,"values":[-20,0,20,40,60,80],"ticks":true,"tickSize":17,"tickWidth":2,"tickColor":"black","labels":false,"domain":false,"title":null}},
  "y":{"field":"y","type":"quantitative","axis":{"orient":"left","offset":-17,"values":[-120,-110,-100,-90,-80,-70,-60,-50],"ticks":true,"tickSize":17,"tickWidth":2,"tickColor":"black","labels":false,"domain":false,"title":null}},
  "color":{"field":"s","type":"nominal","legend":null},
  "shape":{"condition":{"test":"indexof(datum.s,'AG2UG')>=0","value":"M0,-1.155L1,0.577L-1,0.577Z"},"value":"circle"},
  "size":{"condition":{"test":"indexof(datum.s,'AG2UG')>=0","value":900},"value":484}
 }},
{"mark":{"type":"point","opacity":0},
 "encoding":{
  "x":{"field":"x","type":"quantitative","axis":{"orient":"top","offset":-17,"values":[-20,0,20,40,60,80],"ticks":true,"tickSize":17,"tickWidth":2,"tickColor":"black","labels":false,"domain":false,"title":null}},
  "y":{"field":"y","type":"quantitative","axis":{"orient":"right","offset":-17,"values":[-120,-110,-100,-90,-80,-70,-60,-50],"ticks":true,"tickSize":17,"tickWidth":2,"tickColor":"black","labels":false,"domain":false,"title":null}}
 }}
],
"resolve":{"axis":{"x":"independent","y":"independent"}}
}
